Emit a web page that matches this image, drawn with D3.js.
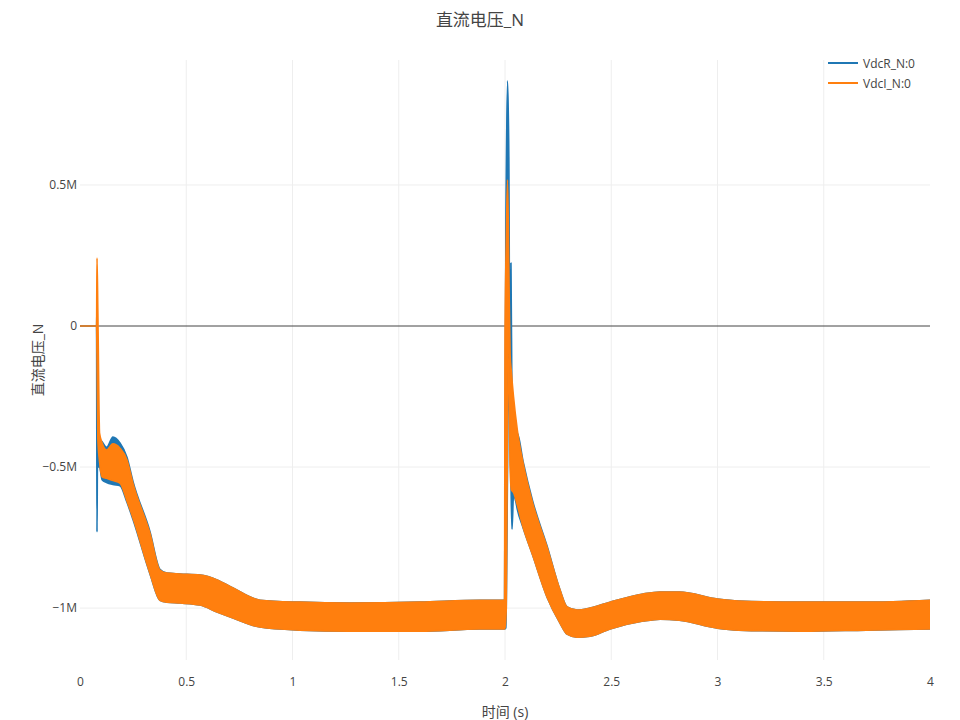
<!DOCTYPE html>
<html><head><meta charset="utf-8">
<script src="https://cdn.jsdelivr.net/npm/d3@7"></script>
<style>body{margin:0;background:#fff;} text{font-family:"Open Sans","Noto Sans CJK SC",sans-serif;}</style>
</head><body><svg id="c" width="960" height="720"></svg>
<script>
// ---- data (values in volts) ----
const seriesNames = ["VdcR_N:0", "VdcI_N:0"];
const xTicks = [0, 0.5, 1, 1.5, 2, 2.5, 3, 3.5, 4];
const xTickLabels = ["0", "0.5", "1", "1.5", "2", "2.5", "3", "3.5", "4"];
const yTicks = [-1e6, -0.5e6, 0, 0.5e6];
const yTickLabels = ["\u22121M", "\u22120.5M", "0", "0.5M"];

// VdcR_N:0 envelope (time s, upper, lower in MV)
const rTime = [0, 0.078, 0.080, 0.082, 0.092, 0.104, 0.125, 0.155, 0.188, 0.221, 0.249, 0.329, 0.376, 0.409, 0.471, 0.565, 0.645, 0.720, 0.847, 1.035, 1.27, 1.6, 1.88, 1.998, 2.004, 2.012, 2.018, 2.022, 2.028, 2.033, 2.040, 2.050, 2.058, 2.085, 2.13, 2.198, 2.259, 2.292, 2.339, 2.4, 2.494, 2.65, 2.73, 2.82, 3.0, 3.1, 3.4, 3.7, 4.0];
const rHigh = [0, 0, 0.067, -0.30, -0.40, -0.41, -0.43, -0.394, -0.415, -0.465, -0.55, -0.728, -0.862, -0.876, -0.879, -0.883, -0.90, -0.929, -0.972, -0.979, -0.982, -0.979, -0.972, -0.972, 0.30, 0.869, 0.60, 0.0, 0.223, -0.30, -0.40, -0.45, -0.38, -0.48, -0.62, -0.78, -0.936, -0.996, -1.007, -1.0, -0.979, -0.95, -0.943, -0.943, -0.968, -0.975, -0.979, -0.979, -0.972];
const rLow = [0, 0, -0.73, -0.50, -0.50, -0.545, -0.555, -0.562, -0.566, -0.625, -0.685, -0.878, -0.972, -0.979, -0.982, -0.989, -1.014, -1.035, -1.067, -1.078, -1.082, -1.082, -1.074, -1.074, -1.07, -0.50, 0.0, -0.30, -0.55, -0.72, -0.60, -0.62, -0.65, -0.715, -0.812, -0.961, -1.053, -1.092, -1.103, -1.10, -1.074, -1.046, -1.039, -1.043, -1.071, -1.078, -1.082, -1.078, -1.074];

// VdcI_N:0 envelope (time s, upper, lower in MV)
const iTime = [0, 0.078, 0.080, 0.084, 0.092, 0.104, 0.125, 0.155, 0.188, 0.221, 0.249, 0.329, 0.376, 0.409, 0.471, 0.565, 0.645, 0.720, 0.847, 1.035, 1.27, 1.6, 1.88, 1.998, 2.000, 2.006, 2.012, 2.018, 2.024, 2.030, 2.040, 2.058, 2.085, 2.13, 2.198, 2.259, 2.292, 2.339, 2.4, 2.494, 2.65, 2.73, 2.82, 3.0, 3.1, 3.4, 3.7, 4.0];
const iHigh = [0, 0, 0.241, 0.05, -0.38, -0.415, -0.44, -0.418, -0.433, -0.475, -0.557, -0.734, -0.865, -0.876, -0.879, -0.883, -0.90, -0.929, -0.972, -0.979, -0.982, -0.979, -0.972, -0.972, -0.05, 0.30, 0.518, 0.20, -0.10, -0.163, -0.25, -0.369, -0.485, -0.627, -0.784, -0.936, -0.996, -1.007, -1.0, -0.979, -0.95, -0.943, -0.943, -0.968, -0.975, -0.979, -0.979, -0.972];
const iLow = [0, 0, -0.10, -0.40, -0.48, -0.535, -0.54, -0.548, -0.557, -0.62, -0.68, -0.876, -0.972, -0.979, -0.982, -0.989, -1.014, -1.035, -1.067, -1.078, -1.082, -1.082, -1.074, -1.074, -1.07, -1.0, -0.30, -0.10, -0.50, -0.58, -0.59, -0.635, -0.713, -0.812, -0.961, -1.053, -1.092, -1.103, -1.10, -1.074, -1.046, -1.039, -1.043, -1.071, -1.078, -1.082, -1.078, -1.074];

const colors = ["#1f77b4", "#ff7f0e"];

// ---- layout ----
const L = 80, R = 930, T = 60, B = 660;
const svg = d3.select("#c");
const x = d3.scaleLinear().domain([0, 4]).range([L, R]);
const y = d3.scaleLinear().domain([-1.184e6, 0.943e6]).range([B, T]);

// grid
svg.append("g").selectAll("line").data(xTicks.filter(d => d > 0 && d < 4)).join("line")
  .attr("x1", d => x(d)).attr("x2", d => x(d)).attr("y1", T).attr("y2", B)
  .attr("stroke", "#eee").attr("stroke-width", 1);
svg.append("g").selectAll("line").data(yTicks.filter(d => d !== 0)).join("line")
  .attr("x1", L).attr("x2", R).attr("y1", d => y(d)).attr("y2", d => y(d))
  .attr("stroke", "#eee").attr("stroke-width", 1);
// zero line
svg.append("line").attr("x1", L).attr("x2", R).attr("y1", y(0)).attr("y2", y(0))
  .attr("stroke", "#444").attr("stroke-width", 1);

// axes labels via d3 axes
const xAxis = d3.axisBottom(x).tickValues(xTicks).tickFormat((d, i) => xTickLabels[i]).tickSize(0).tickPadding(17);
const gx = svg.append("g").attr("transform", `translate(0,${B})`).call(xAxis);
gx.select(".domain").remove();
gx.selectAll("text").attr("font-size", 12).attr("fill", "#444").attr("font-family", "Open Sans");

const yAxis = d3.axisLeft(y).tickValues(yTicks).tickFormat((d, i) => yTickLabels[i]).tickSize(0).tickPadding(3);
const gy = svg.append("g").attr("transform", `translate(${L},0)`).call(yAxis);
gy.select(".domain").remove();
gy.selectAll("text").attr("font-size", 12).attr("fill", "#444").attr("font-family", "Open Sans");

// series
function build(times, hi, lo) { return times.map((t, i) => ({ t, hi: hi[i] * 1e6, lo: lo[i] * 1e6 })); }
const data = [build(rTime, rHigh, rLow), build(iTime, iHigh, iLow)];
const area = d3.area().curve(d3.curveMonotoneX).x(d => x(d.t)).y0(d => y(d.lo)).y1(d => y(d.hi));
const clip = svg.append("clipPath").attr("id", "clip").append("rect").attr("x", L).attr("y", T).attr("width", R - L).attr("height", B - T);
const plot = svg.append("g").attr("clip-path", "url(#clip)");
data.forEach((d, k) => {
  plot.append("path").datum(d).attr("d", area)
    .attr("fill", colors[k]).attr("stroke", colors[k]).attr("stroke-width", 1.6).attr("stroke-linejoin", "round");
});

// title
svg.append("text").attr("x", 480).attr("y", 26).attr("text-anchor", "middle")
  .attr("font-size", 17).attr("fill", "#444").text("直流电压_N");
svg.append("text").attr("x", (L + R) / 2).attr("y", 717).attr("text-anchor", "middle")
  .attr("font-size", 14).attr("fill", "#444").text("时间 (s)");
svg.append("text").attr("transform", `translate(43,${(T + B) / 2}) rotate(-90)`).attr("text-anchor", "middle")
  .attr("font-size", 14).attr("fill", "#444").text("直流电压_N");

// legend
const lg = svg.append("g");
seriesNames.forEach((n, i) => {
  const yy = 63 + i * 20;
  lg.append("line").attr("x1", 828).attr("x2", 858).attr("y1", yy).attr("y2", yy)
    .attr("stroke", colors[i]).attr("stroke-width", 2);
  lg.append("text").attr("x", 863).attr("y", yy + 4.5).attr("font-size", 12).attr("fill", "#444").text(n);
});
</script></body></html>
